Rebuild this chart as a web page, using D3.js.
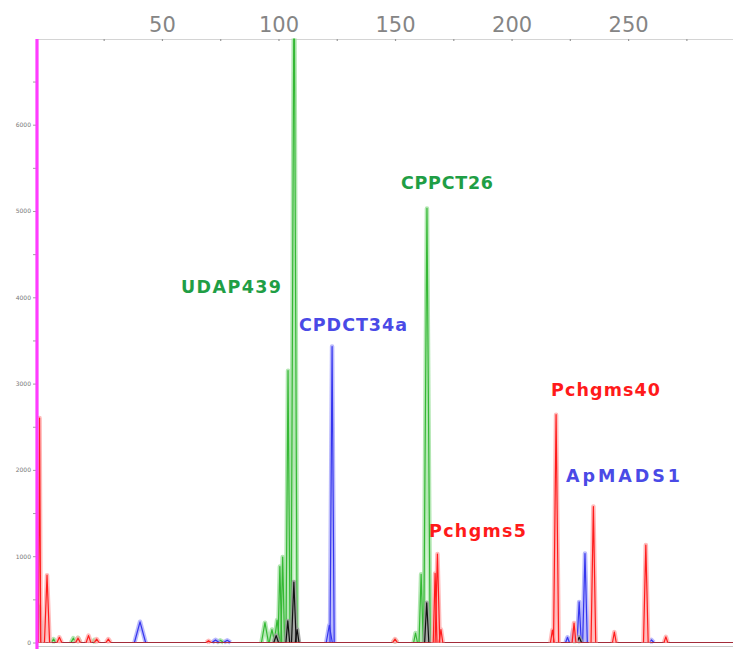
<!DOCTYPE html>
<html>
<head>
<meta charset="utf-8">
<script src="https://cdn.jsdelivr.net/npm/d3@7"></script>
<style>
  html, body { margin: 0; padding: 0; background: #fff; }
  svg { display: block; }
</style>
</head>
<body>
<svg id="chart" width="733" height="649"></svg>
<script>
/* SECTION: data (size in bp, height in RFU) */

var sizeTicks = [25, 50, 75, 100, 125, 150, 175, 200, 225, 250, 275];
var rfuTicks = [0, 500, 1000, 1500, 2000, 2500, 3000, 3500, 4000, 4500, 5000, 5500, 6000, 6500];

// green dye
var greenPos    = [-2.6, 3.5, 12, 14, 21, 75, 94.2, 97.2, 99.4, 100.6, 101.8, 104.1, 106.7, 150, 158.8, 161.2, 163.7, 227];
var greenHeight = [400, 40, 50, 55, 30, 25, 230, 150, 260, 880, 990, 3150, 8000, 30, 110, 790, 5030, 40];
var greenWidth  = [0.8, 1, 1, 1, 1, 1.5, 1.5, 1.2, 1.2, 0.8, 0.8, 0.9, 1.3, 1, 0.8, 0.9, 1.4, 1];

// blue dye
var bluePos    = [-2.5, 40.6, 73, 78, 121.8, 123.0, 224, 226.4, 229, 231.5, 260];
var blueHeight = [350, 240, 30, 25, 200, 3430, 60, 145, 470, 1030, 30];
var blueWidth  = [0.8, 2.4, 1.5, 1.5, 1.3, 0.9, 0.8, 0.8, 0.9, 1.0, 1];

// red dye
var redPos    = [-2.5, 0.7, 6, 14, 18.5, 22, 27, 70, 150, 167.2, 168.2, 169.7, 217.5, 219.1, 226.8, 235.1, 244.1, 257.6, 266.2];
var redHeight = [2600, 780, 60, 50, 80, 40, 40, 20, 40, 800, 1025, 150, 145, 2640, 225, 1575, 120, 1130, 65];
var redWidth  = [0.5, 1.1, 1, 1, 1, 1, 1, 1, 1, 0.8, 1.0, 0.8, 0.8, 1.1, 0.8, 1.0, 0.8, 1.0, 0.8];

// black dye
var blackPos    = [-2.7, 99, 104, 106.6, 108, 163.6, 229];
var blackHeight = [430, 80, 250, 700, 150, 460, 60];
var blackWidth  = [0.8, 1, 0.8, 1.0, 0.8, 0.9, 1];

// loci names and the dye they were typed in
var locusNames = ["UDAP439", "CPDCT34a", "CPPCT26", "Pchgms5", "Pchgms40", "ApMADS1"];
var locusDye   = ["green", "blue", "green", "red", "red", "blue"];

/* SECTION: layout and styles */

var svg = d3.select("#chart");
var plotLeft = 37, plotRight = 733, plotTop = 38.4, zeroY = 642.5;

var x = d3.scaleLinear().domain([-3.6, 295]).range([plotLeft, plotRight]);
var y = d3.scaleLinear().domain([0, 7000]).range([zeroY, plotTop]);

var dyeDark  = {green: "#34b834", blue: "#3535ee", red: "#ff1c1c", black: "#111111"};
var dyeLight = {green: "#a6e3a6", blue: "#aeaefc", red: "#ffb0b0", black: "#9a9a9a"};
var textColor = {green: "#1f9e45", blue: "#4a4ae6", red: "#ff1a1a"};

// where each locus name sits: [x, baseline, length]
var labelPlace = [
  [181, 293, 100],
  [299, 330.5, 108],
  [401, 188.5, 92],
  [429, 537, 97],
  [551, 395.5, 109],
  [566, 481.5, 114]
];

/* SECTION: axes */

// top size scale
var topAxis = d3.axisTop(x)
    .tickValues(sizeTicks)
    .tickSizeInner(-2)
    .tickSizeOuter(0)
    .tickPadding(7)
    .tickFormat(function(d) { return d % 50 == 0 ? d : ""; });

var gTop = svg.append("g").attr("transform", "translate(0,39)").call(topAxis);
gTop.select(".domain").attr("stroke", "#d4d4d4").attr("stroke-width", 1.2);
gTop.selectAll(".tick line").attr("stroke", "#999").attr("stroke-width", 1.2);
gTop.selectAll(".tick text")
    .attr("fill", "#858585")
    .style("font-family", "'DejaVu Sans', sans-serif")
    .style("font-size", "21px");

// left RFU scale (tiny labels)
var leftAxis = d3.axisLeft(y)
    .tickValues(rfuTicks)
    .tickSizeInner(3)
    .tickSizeOuter(0)
    .tickPadding(2)
    .tickFormat(function(d) { return d % 1000 == 0 ? d : ""; });

var gLeft = svg.append("g").attr("transform", "translate(" + (plotLeft - 1) + ",0)").call(leftAxis);
gLeft.select(".domain").remove();
gLeft.selectAll(".tick line").attr("stroke", "#888").attr("stroke-width", 0.8);
gLeft.selectAll(".tick text")
    .attr("fill", "#777")
    .style("font-family", "'DejaVu Sans', sans-serif")
    .style("font-size", "6px");

// bottom rule
svg.append("line")
    .attr("x1", plotLeft).attr("x2", plotRight)
    .attr("y1", 646.5).attr("y2", 646.5)
    .attr("stroke", "#c8c8c8").attr("stroke-width", 1);

/* SECTION: traces */

svg.append("clipPath").attr("id", "plotclip")
  .append("rect")
    .attr("x", plotLeft).attr("y", plotTop)
    .attr("width", plotRight - plotLeft).attr("height", 646 - plotTop);

var plot = svg.append("g").attr("clip-path", "url(#plotclip)");

var peakLine = d3.line()
    .x(function(d) { return x(d[0]); })
    .y(function(d) { return y(d[1]); });

function makePeaks(pos, hgt, wid) {
  var peaks = [];
  for (var i = 0; i < pos.length; i++) {
    peaks.push([[pos[i] - wid[i], 0], [pos[i], hgt[i]], [pos[i] + wid[i], 0]]);
  }
  return peaks;
}

function drawDye(name, pos, hgt, wid) {
  var g = plot.append("g").attr("class", "dye-" + name);
  var peaks = makePeaks(pos, hgt, wid);

  // baseline of the dye
  g.append("path")
    .attr("d", peakLine([[x.domain()[0], 0], [x.domain()[1], 0]]))
    .attr("stroke", dyeDark[name]).attr("stroke-width", 1).attr("opacity", 0.55)
    .attr("fill", "none");

  // light halo
  g.selectAll("path.halo").data(peaks).enter()
    .append("path").attr("class", "halo")
    .attr("d", peakLine)
    .attr("fill", "none")
    .attr("stroke", dyeLight[name])
    .attr("stroke-width", 4.5)
    .attr("stroke-linejoin", "round")
    .attr("opacity", 0.85);

  // dark trace
  g.selectAll("path.trace").data(peaks).enter()
    .append("path").attr("class", "trace")
    .attr("d", peakLine)
    .attr("fill", "none")
    .attr("stroke", dyeDark[name])
    .attr("stroke-width", 1.2)
    .attr("stroke-linejoin", "round");
}

drawDye("green", greenPos, greenHeight, greenWidth);
drawDye("blue", bluePos, blueHeight, blueWidth);
drawDye("black", blackPos, blackHeight, blackWidth);
drawDye("red", redPos, redHeight, redWidth);

// magenta start marker
svg.append("line")
    .attr("x1", plotLeft).attr("x2", plotLeft)
    .attr("y1", 39).attr("y2", 649)
    .attr("stroke", "#ff3cff").attr("stroke-width", 3.2);

/* SECTION: locus labels */

svg.selectAll("text.locus").data(locusNames).enter()
  .append("text").attr("class", "locus")
    .attr("x", function(d, i) { return labelPlace[i][0]; })
    .attr("y", function(d, i) { return labelPlace[i][1]; })
    .attr("textLength", function(d, i) { return labelPlace[i][2]; })
    .attr("lengthAdjust", "spacing")
    .attr("fill", function(d, i) { return textColor[locusDye[i]]; })
    .style("font-family", "'DejaVu Sans', Verdana, sans-serif")
    .style("font-weight", "bold")
    .style("font-size", "17.5px")
    .text(function(d) { return d; });
</script>
</body>
</html>
